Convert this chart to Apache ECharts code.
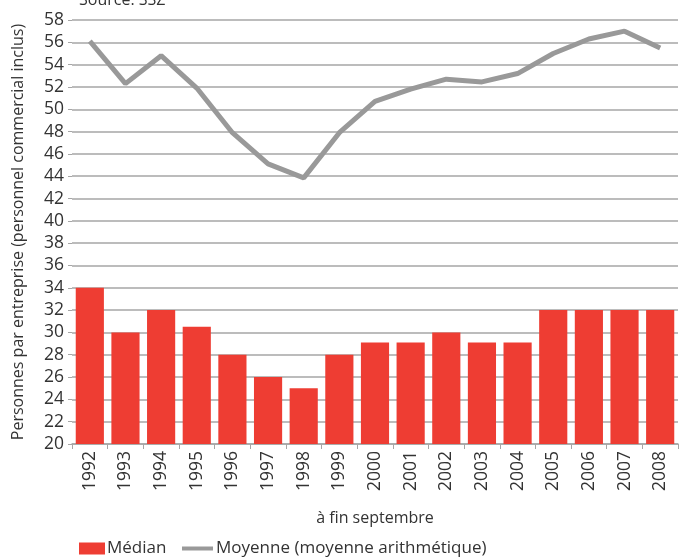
<!DOCTYPE html>
<html>
<head>
<meta charset="utf-8">
<script src="https://cdn.jsdelivr.net/npm/echarts@6/dist/echarts.min.js"></script>
<style>html,body{margin:0;padding:0;background:#fff}#c{width:679px;height:558px}</style>
</head>
<body>
<div id="c"></div>
<script>
var years = ['1992','1993','1994','1995','1996','1997','1998','1999','2000','2001','2002','2003','2004','2005','2006','2007','2008'];
var median = [34, 30, 32, 30.5, 28, 26, 25, 28, 29.1, 29.1, 30, 29.1, 29.1, 32, 32, 32, 32];
var moyenne = [56.1, 52.3, 54.8, 51.9, 47.9, 45.1, 43.85, 47.9, 50.7, 51.8, 52.7, 52.45, 53.2, 55.0, 56.3, 57.0, 55.5];
var yTicks = { min: 20, max: 58, interval: 2 };

var FONT = '"Open Sans", "Noto Sans", sans-serif';
var chart = echarts.init(document.getElementById('c'), null, { renderer: 'canvas' });
chart.setOption({
  animation: false,
  backgroundColor: '#ffffff',
  textStyle: { fontFamily: FONT },
  title: {
    text: 'Source: SSZ',
    left: 74, top: -13,
    textStyle: { fontFamily: FONT, fontSize: 16, fontWeight: 'normal', color: '#333' }
  },
  grid: { left: 72, right: 1, top: 20, bottom: 114, containLabel: false, outerBoundsMode: 'none' },
  legend: [
    {
      data: [{ name: 'Médian', icon: 'rect' }],
      left: 74, top: 535,
      itemWidth: 26, itemHeight: 12, itemGap: 10,
      textStyle: { fontFamily: FONT, fontSize: 17, color: '#333', padding: [0,0,0,-3] }
    },
    {
      data: [{ name: 'Moyenne (moyenne arithmétique)', icon: 'rect' }],
      left: 177, top: 535,
      itemWidth: 31, itemHeight: 4, itemGap: 10,
      textStyle: { fontFamily: FONT, fontSize: 17, color: '#333', padding: [0,0,0,-2] }
    }
  ],
  xAxis: {
    type: 'category',
    data: years,
    name: 'à fin septembre',
    nameLocation: 'middle',
    nameGap: 66,
    nameTextStyle: { fontFamily: FONT, fontSize: 16, color: '#333' },
    axisLine: { show: true, lineStyle: { color: '#a6a6a6', width: 1.5 } },
    axisTick: { show: true, length: 5, lineStyle: { color: '#a6a6a6' } },
    axisLabel: { rotate: 90, fontFamily: FONT, fontSize: 17.5, color: '#333', margin: 7 }
  },
  yAxis: {
    type: 'value',
    min: yTicks.min, max: yTicks.max, interval: yTicks.interval,
    name: 'Personnes par entreprise (personnel commercial inclus)',
    nameLocation: 'middle',
    nameGap: 46,
    nameTextStyle: { fontFamily: FONT, fontSize: 16, color: '#333' },
    axisLine: { show: false },
    axisTick: { show: true, length: 4, lineStyle: { color: '#a6a6a6' } },
    axisLabel: { fontFamily: FONT, fontSize: 17.5, color: '#333', margin: 8 },
    splitLine: { show: true, lineStyle: { color: '#a6a6a6', width: 1.5 } }
  },
  series: [
    {
      name: 'Médian',
      type: 'bar',
      data: median,
      barCategoryGap: '21%',
      itemStyle: { color: '#ee3d33' },
      z: 2
    },
    {
      name: 'Moyenne (moyenne arithmétique)',
      type: 'line',
      data: moyenne,
      showSymbol: false,
      symbol: 'none',
      lineStyle: { color: '#999999', width: 5 },
      itemStyle: { color: '#999999' },
      z: 3
    }
  ]
});
</script>
</body>
</html>
